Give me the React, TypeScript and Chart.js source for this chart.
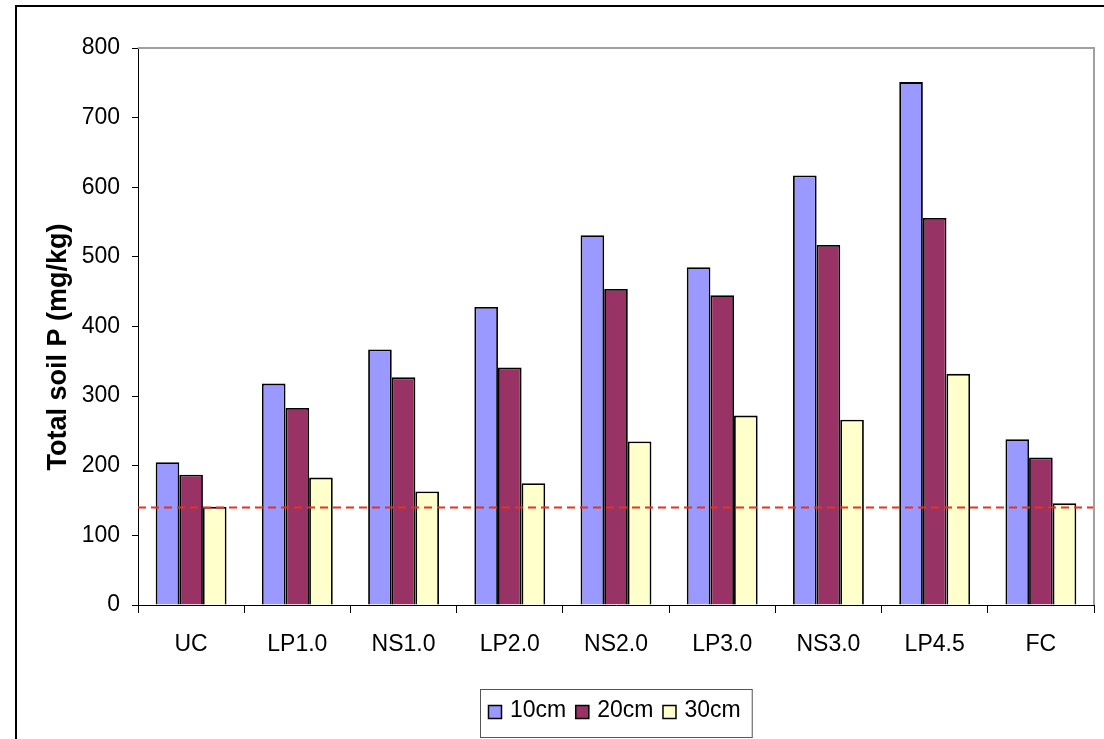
import React, { useEffect, useRef } from "react";
import { Chart, registerables } from "chart.js";

Chart.register(...registerables);

// ---- Data ----
const CATEGORIES = ["UC", "LP1.0", "NS1.0", "LP2.0", "NS2.0", "LP3.0", "NS3.0", "LP4.5", "FC"];
const DEPTH_10CM = [205, 318, 367, 428, 531, 485, 617, 751, 238];
const DEPTH_20CM = [187, 283, 327, 341, 454, 445, 517, 556, 212];
const DEPTH_30CM = [141, 183, 163, 175, 235, 272, 266, 332, 146];
const SERIES_LABELS = ["10cm", "20cm", "30cm"];
const Y_MIN = 0;
const Y_MAX = 800;
const Y_STEP = 100;
const REFERENCE_LEVEL = 140;
const Y_TITLE = "Total soil P (mg/kg)";

const FONT = "'Liberation Sans', Arial, Helvetica, sans-serif";
const COLORS = ["#9999FF", "#993366", "#FFFFCC"];

const decorPlugin = {
  id: "decor",
  beforeDraw(chart: any) {
    const { ctx, width, height } = chart;
    ctx.save();
    ctx.fillStyle = "#ffffff";
    ctx.fillRect(0, 0, width, height);
    // outer frame (extends beyond the visible area on right/bottom)
    ctx.strokeStyle = "#000000";
    ctx.lineWidth = 2;
    ctx.strokeRect(16, 6, width + 20, height + 20);
    ctx.restore();
  },
  afterDatasetsDraw(chart: any) {
    const { ctx, chartArea } = chart;
    const y = chart.scales.y.getPixelForValue(REFERENCE_LEVEL);
    ctx.save();
    ctx.strokeStyle = "#E8321E";
    ctx.lineWidth = 2;
    ctx.setLineDash([8, 5]);
    ctx.beginPath();
    ctx.moveTo(chartArea.left, y);
    ctx.lineTo(chartArea.right, y);
    ctx.stroke();
    ctx.setLineDash([]);
    // plot area border (top and right)
    ctx.strokeStyle = "#a0a0a0";
    ctx.lineWidth = 2;
    ctx.beginPath();
    ctx.moveTo(chartArea.left, chartArea.top);
    ctx.lineTo(chartArea.right, chartArea.top);
    ctx.lineTo(chartArea.right, chartArea.bottom);
    ctx.stroke();
    ctx.restore();
  },
  afterDraw(chart: any) {
    const { ctx, chartArea } = chart;
    ctx.save();
    // y-axis title
    ctx.translate(59, 347);
    ctx.rotate(-Math.PI / 2);
    ctx.font = `bold 27px ${FONT}`;
    ctx.fillStyle = "#000";
    ctx.textAlign = "center";
    ctx.textBaseline = "middle";
    ctx.fillText(Y_TITLE, 0, 0);
    ctx.restore();

    // legend
    ctx.save();
    ctx.font = `23px ${FONT}`;
    const ds = chart.data.datasets;
    const widths = ds.map((d: any) => ctx.measureText(d.label).width);
    const marker = 14, gapMT = 8, gapItems = 9, padL = 8, padR = 11;
    let total = padL + padR + gapItems * (ds.length - 1);
    widths.forEach((w: number) => (total += marker + gapMT + w));
    const cx = (chartArea.left + chartArea.right) / 2;
    const left = Math.round(cx - total / 2);
    const boxTop = 689, boxH = 48;
    ctx.strokeStyle = "#555";
    ctx.lineWidth = 1;
    ctx.strokeRect(left + 0.5, boxTop + 0.5, total, boxH);
    let x = left + padL;
    const markerTop = 705;
    ds.forEach((d: any, i: number) => {
      ctx.fillStyle = d.backgroundColor;
      ctx.fillRect(x, markerTop, marker, marker);
      ctx.strokeStyle = "#000";
      ctx.lineWidth = 1.5;
      ctx.strokeRect(x + 0.5, markerTop + 0.5, marker - 1, marker - 1);
      ctx.fillStyle = "#000";
      ctx.textAlign = "left";
      ctx.textBaseline = "alphabetic";
      ctx.fillText(d.label, x + marker + gapMT, 717);
      x += marker + gapMT + widths[i] + gapItems;
    });
    ctx.restore();
  },
};

export default function App() {
  const canvasRef = useRef<HTMLCanvasElement | null>(null);

  useEffect(() => {
    const canvas = canvasRef.current;
    if (!canvas) return;
    const series = [DEPTH_10CM, DEPTH_20CM, DEPTH_30CM];
    const chart = new Chart(canvas, {
      type: "bar",
      data: {
        labels: CATEGORIES,
        datasets: series.map((data, i) => ({
          label: SERIES_LABELS[i],
          data,
          backgroundColor: COLORS[i],
          borderColor: "#000000",
          borderWidth: 1.8,
          categoryPercentage: 0.667,
          barPercentage: 1.0,
        })),
      },
      options: {
        responsive: false,
        animation: false,
        devicePixelRatio: 1,
        layout: { padding: { left: 0, top: 48, right: 10, bottom: 0 } },
        plugins: {
          legend: { display: false },
          tooltip: { enabled: false },
          title: { display: false },
        },
        scales: {
          x: {
            grid: {
              offset: true,
              drawOnChartArea: false,
              drawTicks: true,
              tickLength: 8,
              color: "#000",
            },
            border: { display: true, color: "#000", width: 1 },
            ticks: {
              color: "#000",
              font: { family: FONT, size: 23 },
              padding: 18,
              maxRotation: 0,
              autoSkip: false,
            },
            afterFit: (scale: any) => {
              scale.height = 134;
            },
          },
          y: {
            min: Y_MIN,
            max: Y_MAX,
            grid: {
              drawOnChartArea: false,
              drawTicks: true,
              tickLength: 6,
              color: "#000",
            },
            border: { display: true, color: "#000", width: 1 },
            ticks: {
              stepSize: Y_STEP,
              color: "#000",
              font: { family: FONT, size: 23 },
              padding: 12,
            },
            afterFit: (scale: any) => {
              scale.width = 138;
            },
          },
        },
      },
      plugins: [decorPlugin],
    });
    return () => chart.destroy();
  }, []);

  return (
    <div style={{ position: "fixed", left: 0, top: 0, width: 1104, height: 739, background: "#fff" }}>
      <canvas ref={canvasRef} width={1104} height={739} style={{ display: "block" }} />
    </div>
  );
}
